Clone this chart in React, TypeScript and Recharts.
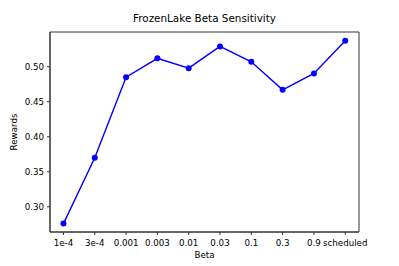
import { LineChart, Line, XAxis, YAxis, ReferenceArea } from "recharts";

const betas = ["1e-4", "3e-4", "0.001", "0.003", "0.01", "0.03", "0.1", "0.3", "0.9", "scheduled"];
const rewards = [0.276, 0.37, 0.485, 0.512, 0.498, 0.529, 0.507, 0.467, 0.4905, 0.537];
const yTicks = [0.3, 0.35, 0.4, 0.45, 0.5];
const yDomain = [0.264, 0.5496];
const xDomain = [-0.43, 9.44];

const data = betas.map((b, i) => ({ idx: i, beta: b, reward: rewards[i] }));

const font = "'DejaVu Sans', sans-serif";
const axisColor = "#333";

function App(): JSX.Element {
  return (
    <div style={{ position: "absolute", left: 0, top: 0, width: 399, height: 266, fontFamily: font, background: "#fff" }}>
      <div style={{ position: "absolute", left: 50, width: 309, top: 12, textAlign: "center", fontSize: 10.4, color: "#000" }}>
        FrozenLake Beta Sensitivity
      </div>
      <div
        style={{
          position: "absolute",
          left: 14,
          top: 132,
          transform: "translate(-50%, -50%) rotate(-90deg)",
          fontSize: 8.7,
          color: "#000",
          whiteSpace: "nowrap",
        }}
      >
        Rewards
      </div>
      <div style={{ position: "absolute", left: 50, width: 309, top: 250, textAlign: "center", fontSize: 8.7, color: "#000" }}>
        Beta
      </div>
      <LineChart width={399} height={266} data={data} margin={{ top: 32, right: 40, bottom: 0, left: 0 }}>
        <XAxis
          dataKey="idx"
          type="number"
          domain={xDomain}
          ticks={betas.map((_, i) => i)}
          tickFormatter={(v: number) => betas[v] ?? ""}
          allowDataOverflow
          height={34}
          tickSize={3}
          tickMargin={5}
          interval={0}
          stroke={axisColor}
          tick={{ fill: "#000", fontSize: 8.7, fontFamily: font }}
        />
        <YAxis
          width={50}
          domain={yDomain}
          ticks={yTicks}
          tickFormatter={(v: number) => v.toFixed(2)}
          tickSize={3}
          tickMargin={3}
          stroke={axisColor}
          allowDataOverflow
          tick={{ fill: "#000", fontSize: 8.7, fontFamily: font }}
        />
        <ReferenceArea
          x1={xDomain[0]}
          x2={xDomain[1]}
          y1={yDomain[0]}
          y2={yDomain[1]}
          fill="none"
          stroke={axisColor}
          strokeWidth={1}
          ifOverflow="visible"
        />
        <Line
          dataKey="reward"
          stroke="#0000ff"
          strokeWidth={1.4}
          dot={{ r: 3, fill: "#0000ff", stroke: "#0000ff", strokeWidth: 0 }}
          isAnimationActive={false}
        />
      </LineChart>
    </div>
  );
}

export default App;
